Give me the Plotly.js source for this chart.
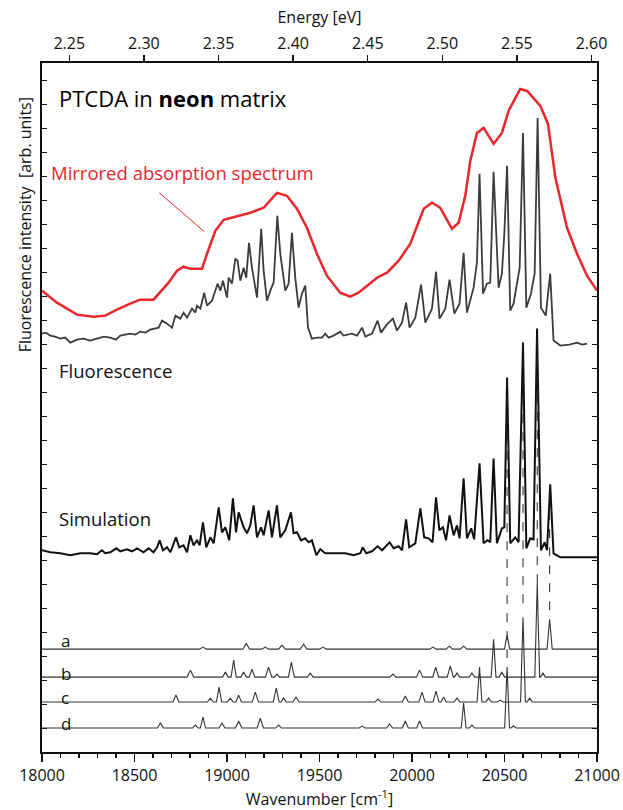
<!DOCTYPE html>
<html>
<head>
<meta charset="utf-8">
<script src="https://cdn.plot.ly/plotly-3.0.1.min.js"></script>
<style>html,body{margin:0;padding:0;background:#fff;}#chart{width:623px;height:810px;}</style>
</head>
<body>
<div id="chart"></div>
<script>
// Mirrored absorption spectrum (red)
const absWn = [18000,18081,18189,18279,18342,18405,18477,18531,18603,18630,18684,18730,18765,18802,18865,18892,18937,18982,19072,19126,19198,19234,19270,19324,19378,19432,19486,19540,19612,19666,19711,19811,19865,19928,19991,20063,20108,20153,20216,20252,20288,20315,20351,20387,20414,20441,20486,20522,20585,20622,20694,20735,20775,20838,20892,20946,21000];
const absI  = [462,450,438,436,437,443,449,453,453,459,470,482,486,484,484,499,522,533,537,540,545,552,560,557,544,525,499,477,460,456,460,475,480,492,509,544,550,545,524,530,557,592,620,625,617,609,620,642,664,662,647,629,575,525,499,477,462];

// Fluorescence (grey)
const fluWn = [18000,18020,18045,18070,18099,18125,18153,18190,18225,18260,18297,18335,18369,18400,18423,18450,18477,18505,18531,18560,18585,18630,18649,18676,18703,18721,18748,18765,18784,18811,18829,18838,18856,18877,18892,18919,18937,18949,18964,18978,19000,19009,19027,19045,19057,19072,19090,19104,19119,19135,19162,19185,19198,19216,19234,19252,19272,19288,19315,19333,19351,19369,19387,19405,19423,19438,19459,19486,19513,19531,19549,19576,19612,19630,19675,19703,19730,19748,19784,19814,19832,19868,19897,19919,19946,19968,19987,20018,20049,20072,20108,20130,20149,20180,20203,20229,20257,20279,20297,20333,20351,20365,20384,20405,20423,20441,20468,20486,20499,20514,20531,20549,20582,20600,20618,20643,20663,20679,20697,20723,20747,20765,20802,20850,20892,20920,20946];
const fluI  = [419,420,417,416,414,415,410,413,414,412,414,416,415,413,417,418,419,418,421,420,423,425,432,429,425,437,434,440,435,444,440,447,444,460,447,452,462,469,462,472,455,475,469,494,492,472,485,475,510,485,455,524,482,452,462,470,537,499,462,469,520,475,445,459,467,425,414,415,415,419,415,417,421,417,419,417,425,416,419,432,420,429,434,422,430,450,425,435,468,430,444,481,434,444,473,439,449,500,440,465,490,579,459,469,470,581,465,479,519,587,442,449,485,620,445,459,479,635,445,437,479,412,407,408,410,408,409];

// Simulation (black)
const simWn = [18000,18045,18099,18153,18207,18261,18297,18324,18342,18369,18402,18423,18459,18486,18514,18549,18576,18603,18622,18636,18654,18676,18694,18724,18742,18765,18784,18802,18819,18838,18852,18870,18888,18910,18928,18955,18973,18991,19012,19032,19049,19063,19090,19108,19126,19144,19162,19184,19198,19225,19243,19270,19288,19315,19346,19360,19378,19400,19423,19441,19459,19483,19504,19531,19567,19595,19639,19684,19721,19733,19753,19784,19814,19838,19879,19901,19928,19946,19968,19985,20018,20045,20066,20090,20111,20130,20148,20167,20184,20203,20225,20243,20257,20279,20297,20320,20336,20365,20387,20408,20423,20441,20459,20486,20499,20514,20531,20558,20576,20600,20618,20639,20657,20676,20697,20717,20730,20747,20765,20784,20802,21000];
const simI  = [202,200,199,197,199,199,198,202,199,200,204,201,203,201,204,200,204,200,205,212,202,205,200,215,205,207,200,217,207,212,207,230,205,215,209,245,220,225,212,254,220,240,225,219,227,247,215,225,217,242,215,247,215,222,240,219,220,212,214,210,212,197,203,199,199,199,199,197,199,205,199,201,206,202,210,204,206,202,233,205,209,244,215,214,210,255,222,225,212,237,217,227,214,274,214,224,213,289,209,212,210,294,209,224,225,375,209,215,210,410,204,214,213,424,202,210,202,268,199,197,195,195];

// Component spectra a–d
const aWn = [18000, 18852,18870,18888, 19086,19104,19122, 19189,19207,19225, 19279,19297,19315, 19396,19414,19432, 19501,19519,19537, 20095,20113,20131, 20184,20202,20220, 20261,20279,20297, 20500,20514,20528, 20730,20744,20758, 21000];
const aI  = [103, 103,105,103, 103,109,103, 103,105,103, 103,107,103, 103,108,103, 103,105,103, 103,105,103, 103,106,103, 103,106,103, 103,117,103, 103,133,103, 103];
const bWn = [18000, 18784,18802,18820, 18976,18991,19006, 19022,19036,19050, 19075,19090,19105, 19120,19135,19150, 19208,19225,19242, 19256,19270,19284, 19332,19348,19364, 19434,19450,19466, 19880,19897,19914, 20024,20041,20058, 20112,20128,20144, 20190,20207,20224, 20229,20243,20257, 20308,20324,20340, 20428,20441,20454, 20471,20486,20501, 20664,20677,20690, 20695,20708,20721, 21000];
const bI  = [75, 75,82,75, 75,80,75, 75,92,75, 75,80,75, 75,83,75, 75,85,75, 75,78,75, 75,90,75, 75,79,75, 75,78,75, 75,82,75, 75,85,75, 75,86,75, 75,79,75, 75,79,75, 75,113,75, 75,80,75, 75,169,75, 75,79,75, 75];
const cWn = [18000, 18708,18724,18740, 18894,18910,18926, 18943,18957,18971, 19002,19018,19034, 19048,19063,19078, 19136,19153,19170, 19250,19266,19282, 19292,19306,19320, 19357,19373,19389, 19800,19816,19832, 19948,19964,19980, 20037,20054,20071, 20114,20130,20146, 20157,20171,20185, 20227,20243,20259, 20352,20365,20378, 20399,20414,20429, 20462,20477,20492, 20587,20600,20613, 20622,20636,20650, 21000];
const cI  = [50, 50,57,50, 50,54,50, 50,65,50, 50,54,50, 50,57,50, 50,60,50, 50,64,50, 50,54,50, 50,55,50, 50,53,50, 50,56,50, 50,60,50, 50,61,50, 50,55,50, 50,54,50, 50,85,50, 50,54,50, 50,52,50, 50,135,50, 50,54,50, 50];
const dWn = [18000, 18624,18640,18656, 18814,18829,18844, 18856,18870,18884, 18957,18973,18989, 19046,19063,19080, 19163,19180,19197, 19263,19279,19295, 19714,19730,19746, 19863,19879,19895, 19948,19964,19980, 20025,20041,20057, 20266,20279,20292, 20309,20324,20339, 20501,20514,20527, 20535,20549,20563, 21000];
const dI  = [24, 24,29,24, 24,27,24, 24,35,24, 24,29,24, 24,31,24, 24,34,24, 24,27,24, 24,26,24, 24,28,24, 24,31,24, 24,31,24, 24,49,24, 24,27,24, 24,85,24, 24,26,24, 24];

// Dashed guide lines linking simulated peaks with component peaks
const dashWn = [20514,20600,20677,20744];
const dashTop = [375,410,424,268];
const dashBottom = [94,149,169,142];

// Callout line from the red label to the absorption curve
const pointerWn = [18634, 18878];
const pointerI = [560, 521];

const xTickVals = [18000,18500,19000,19500,20000,20500,21000];
const xTickText = ['18000','18500','19000','19500','20000','20500','21000'];
const eTickVals = [2.25,2.30,2.35,2.40,2.45,2.50,2.55,2.60];
const eTickText = ['2.25','2.30','2.35','2.40','2.45','2.50','2.55','2.60'];
const K = 1.23984e-4; // eV per cm^-1

const FONT = 'Open Sans, Noto Sans, sans-serif';
const RED = '#e8262b';
const traces = [];
traces.push({x: absWn, y: absI, mode:'lines', line:{color:RED, width:2.5}, hoverinfo:'skip'});
traces.push({x: pointerWn, y: pointerI, mode:'lines', line:{color:RED, width:1}, hoverinfo:'skip'});
traces.push({x: fluWn, y: fluI, mode:'lines', line:{color:'#3c3c3c', width:1.8}, hoverinfo:'skip'});
traces.push({x: simWn, y: simI, mode:'lines', line:{color:'#111111', width:2}, hoverinfo:'skip'});
for (let i = 0; i < dashWn.length; i++) {
  traces.push({x:[dashWn[i], dashWn[i]], y:[dashBottom[i], dashTop[i]], mode:'lines', line:{color:'#222', width:1, dash:'dash'}, hoverinfo:'skip'});
}
[[aWn,aI],[bWn,bI],[cWn,cI],[dWn,dI]].forEach(([xs,ys]) => {
  traces.push({x: xs, y: ys, mode:'lines', line:{color:'#333333', width:1.1}, hoverinfo:'skip'});
});
// energy axis carrier (invisible)
traces.push({x: absWn.map(w => w*K), y: absI, xaxis:'x2', mode:'lines', line:{width:0, color:'rgba(0,0,0,0)'}, hoverinfo:'skip'});

const annotations = [
  {x:18083, y:655, xref:'x', yref:'y', text:'PTCDA in <b>neon</b> matrix', showarrow:false, xanchor:'left', yanchor:'middle', font:{family:FONT, size:22, color:'#000'}},
  {x:18039, y:580, xref:'x', yref:'y', text:'Mirrored absorption spectrum', showarrow:false, xanchor:'left', yanchor:'middle', font:{family:FONT, size:18.5, color:RED}},
  {x:18083, y:382, xref:'x', yref:'y', text:'Fluorescence', showarrow:false, xanchor:'left', yanchor:'middle', font:{family:FONT, size:18.5, color:'#111'}},
  {x:18083, y:234, xref:'x', yref:'y', text:'Simulation', showarrow:false, xanchor:'left', yanchor:'middle', font:{family:FONT, size:18.5, color:'#111'}},
  {x:18094, y:112, xref:'x', yref:'y', text:'a', showarrow:false, xanchor:'left', yanchor:'middle', font:{family:FONT, size:17, color:'#111'}},
  {x:18094, y:79, xref:'x', yref:'y', text:'b', showarrow:false, xanchor:'left', yanchor:'middle', font:{family:FONT, size:17, color:'#111'}},
  {x:18094, y:55, xref:'x', yref:'y', text:'c', showarrow:false, xanchor:'left', yanchor:'middle', font:{family:FONT, size:17, color:'#111'}},
  {x:18094, y:29, xref:'x', yref:'y', text:'d', showarrow:false, xanchor:'left', yanchor:'middle', font:{family:FONT, size:17, color:'#111'}},
  {x:-0.03, y:0.765, xref:'paper', yref:'paper', text:'Fluorescence intensity  [arb. units]', textangle:-90, showarrow:false, xanchor:'center', yanchor:'middle', font:{family:FONT, size:16, color:'#111'}}
];

const layout = {
  width:623, height:810,
  margin:{l:42, r:26, t:63, b:58},
  paper_bgcolor:'#fff', plot_bgcolor:'#fff',
  showlegend:false,
  font:{family:FONT, color:'#111'},
  xaxis:{
    range:[18000,21000], tickvals:xTickVals, ticktext:xTickText, ticks:'outside', ticklen:8, tickwidth:1.5, tickcolor:'#111',
    showline:true, linewidth:2, linecolor:'#111', mirror:false, showgrid:false, zeroline:false,
    minor:{dtick:100, tick0:18000, ticks:'outside', ticklen:4, tickwidth:1.2, tickcolor:'#111', showgrid:false},
    tickfont:{family:FONT, size:16, color:'#111'},
    title:{text:'Wavenumber [cm<sup>-1</sup>]', font:{family:FONT, size:16, color:'#111'}, standoff:2}
  },
  xaxis2:{
    overlaying:'x', side:'top', range:[18000*K, 21000*K], tickvals:eTickVals, ticktext:eTickText,
    ticks:'outside', ticklen:6, tickwidth:1.5, tickcolor:'#111',
    showline:true, linewidth:2, linecolor:'#111', showgrid:false, zeroline:false,
    tickfont:{family:FONT, size:16, color:'#111'},
    title:{text:'Energy [eV]', font:{family:FONT, size:16, color:'#111'}, standoff:4}
  },
  yaxis:{
    range:[0,690], dtick:24, tick0:0, ticks:'inside', ticklen:5, tickwidth:1, tickcolor:'#111',
    showticklabels:false, showline:true, linewidth:2, linecolor:'#111', mirror:'ticks', showgrid:false, zeroline:false
  },
  annotations: annotations
};

Plotly.newPlot('chart', traces, layout, {displayModeBar:false, staticPlot:true});
</script>
</body>
</html>
